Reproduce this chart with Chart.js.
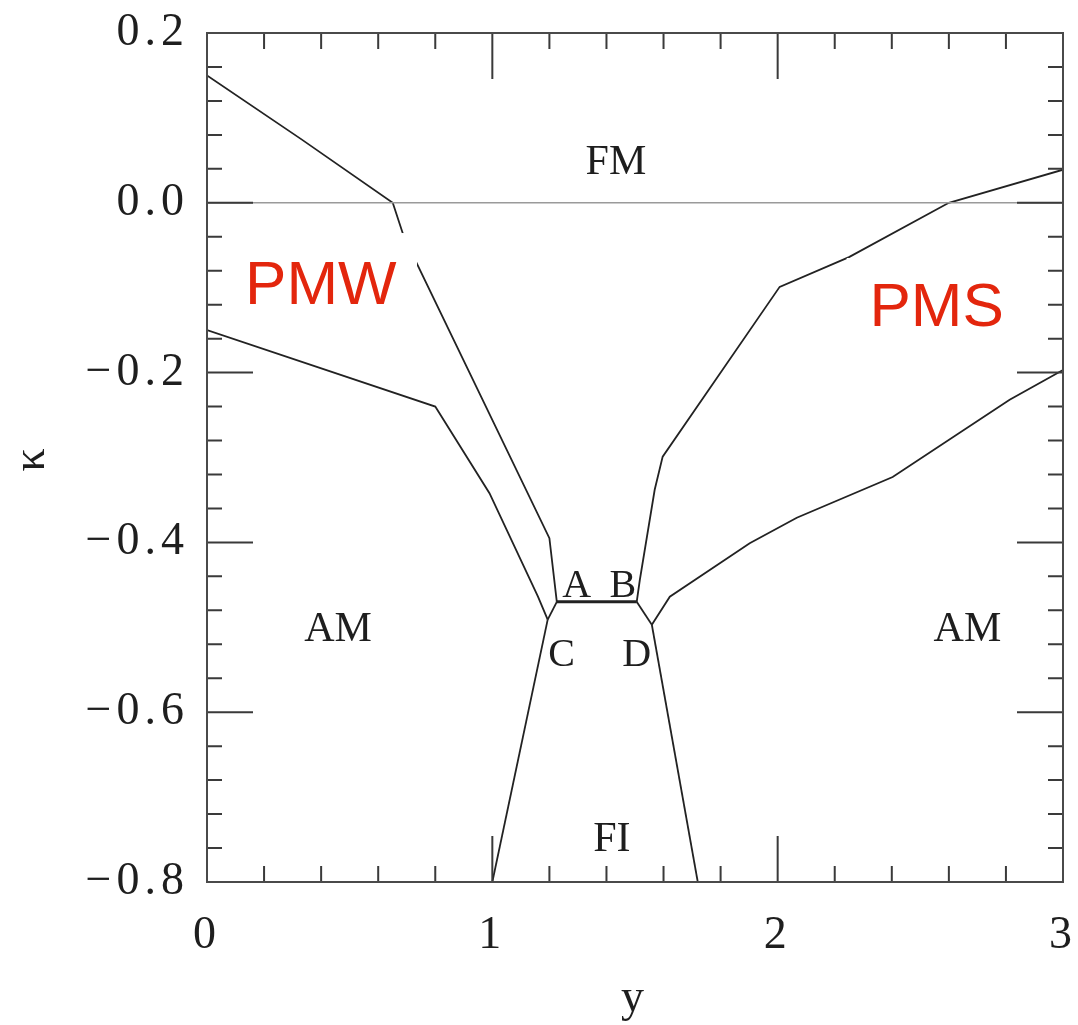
<!DOCTYPE html>
<html>
<head>
<meta charset="utf-8">
<title>Phase diagram κ vs y</title>
<script src="https://cdn.jsdelivr.net/npm/chart.js@4.4.1/dist/chart.umd.min.js"></script>
<style>
  html, body { margin: 0; padding: 0; background: #ffffff; }
  #wrap { width: 1078px; height: 1025px; }
</style>
</head>
<body>
<div id="wrap"><canvas id="phase" width="1078" height="1025"></canvas></div>
<script>
// Phase boundaries in the (y, κ) plane, as [y, κ] pairs
const fmPmwBoundary = [[0, 0.150], [0.33, 0.075], [0.651, 0.0], [0.69, -0.040], [1.20, -0.395], [1.226, -0.470]];
const pmwAmBoundary = [[0, -0.150], [0.80, -0.240], [0.99, -0.342], [1.16, -0.464], [1.194, -0.491]];
const caSegment = [[1.194, -0.491], [1.226, -0.470]];
const abSegment = [[1.226, -0.470], [1.506, -0.470]];
const bdSegment = [[1.506, -0.470], [1.559, -0.497]];
const fmPmsBoundary = [[3.0, 0.039], [2.60, 0.0], [2.25, -0.064], [2.007, -0.099], [1.597, -0.299], [1.569, -0.338], [1.517, -0.444], [1.506, -0.470]];
const pmsAmBoundary = [[3.0, -0.197], [2.813, -0.232], [2.403, -0.323], [2.067, -0.371], [1.902, -0.401], [1.622, -0.464], [1.559, -0.497]];
const cFiBoundary = [[1.194, -0.491], [1.0, -0.8]];
const dFiBoundary = [[1.559, -0.497], [1.72, -0.8]];
const zeroLine = [[0, 0], [3, 0]];

// Axis ranges and tick labels
const yRange = [0, 3];
const kappaRange = [-0.8, 0.2];
const yTickLabels = ['0', '1', '2', '3'];

// Region names and their anchor positions [y, κ]
const phaseNames = ['FM', 'AM', 'AM', 'FI', 'A', 'B', 'C', 'D'];
const phaseAnchors = [[1.433, 0.047], [0.459, -0.503], [2.665, -0.503], [1.419, -0.750],
                      [1.296, -0.4525], [1.457, -0.4525], [1.243, -0.533], [1.506, -0.533]];
const paraNames = ['PMW', 'PMS'];
const paraAnchors = [[0.399, -0.099], [2.557, -0.125]];
// White backing panels of the red labels, [y0, y1, κ0, κ1]
const paraPanels = [[0.081, 0.736, -0.0356, -0.152], [2.242, 2.865, -0.065, -0.184]];

const toXY = pts => pts.map(p => ({ x: p[0], y: p[1] }));
const lineColor = '#222222';
const serif = '"Liberation Serif", "DejaVu Serif", serif';

function boundary(pts, width, color) {
  return {
    data: toXY(pts),
    showLine: true,
    borderColor: color || lineColor,
    borderWidth: width || 1.8,
    pointRadius: 0,
    pointHoverRadius: 0,
    fill: false,
    tension: 0
  };
}

const minus = s => s.replace('-', '\u2212');

// Frame and inward-pointing tick marks
const frameTicks = {
  id: 'frameTicks',
  beforeDraw(chart) {
    chart.ctx.letterSpacing = '5px';
  },
  afterDatasetsDraw(chart) {
    const ctx = chart.ctx;
    const xs = chart.scales.x, ys = chart.scales.y;
    const a = chart.chartArea;
    ctx.save();
    ctx.letterSpacing = '0px';

    // white panels behind the red labels
    ctx.fillStyle = '#ffffff';
    paraPanels.forEach(p => {
      const x0 = xs.getPixelForValue(p[0]), x1 = xs.getPixelForValue(p[1]);
      const y0 = ys.getPixelForValue(p[2]), y1 = ys.getPixelForValue(p[3]);
      ctx.fillRect(x0, y0, x1 - x0, y1 - y0);
    });

    // tick marks
    ctx.strokeStyle = '#3a3a3a';
    ctx.lineWidth = 2;
    ctx.beginPath();
    for (let i = 0; i <= 15; i++) {
      const px = xs.getPixelForValue(i * 0.2);
      const len = (i % 5 === 0) ? 46 : 16;
      ctx.moveTo(px, a.bottom); ctx.lineTo(px, a.bottom - len);
      ctx.moveTo(px, a.top); ctx.lineTo(px, a.top + len);
    }
    for (let j = 0; j <= 25; j++) {
      const py = ys.getPixelForValue(-0.8 + j * 0.04);
      const len = (j % 5 === 0) ? 46 : 15;
      ctx.moveTo(a.left, py); ctx.lineTo(a.left + len, py);
      ctx.moveTo(a.right, py); ctx.lineTo(a.right - len, py);
    }
    ctx.stroke();

    // frame
    ctx.strokeStyle = '#4a4a4a';
    ctx.lineWidth = 2;
    ctx.strokeRect(a.left, a.top, a.right - a.left, a.bottom - a.top);

    // region names
    ctx.fillStyle = '#1e1e1e';
    ctx.textAlign = 'center';
    ctx.textBaseline = 'middle';
    phaseNames.forEach((t, k) => {
      const size = t.length === 1 ? 40 : 42;
      ctx.font = size + 'px ' + serif;
      ctx.fillText(t, xs.getPixelForValue(phaseAnchors[k][0]), ys.getPixelForValue(phaseAnchors[k][1]));
    });

    ctx.fillStyle = '#e3260d';
    ctx.font = '62px "Liberation Sans", Arial, sans-serif';
    paraNames.forEach((t, k) => {
      ctx.fillText(t, xs.getPixelForValue(paraAnchors[k][0]), ys.getPixelForValue(paraAnchors[k][1]));
    });
    ctx.restore();
  }
};

const datasets = [
  boundary(zeroLine, 1.5, '#9a9a9a'),
  boundary(fmPmwBoundary),
  boundary(pmwAmBoundary),
  boundary(caSegment),
  boundary(abSegment, 3),
  boundary(bdSegment),
  boundary(fmPmsBoundary),
  boundary(pmsAmBoundary),
  boundary(cFiBoundary),
  boundary(dFiBoundary)
];

new Chart(document.getElementById('phase'), {
  type: 'scatter',
  data: { datasets },
  options: {
    responsive: false,
    animation: false,
    events: [],
    layout: { autoPadding: false, padding: { left: 0, top: 33, right: 15, bottom: 0 } },
    plugins: { legend: { display: false }, tooltip: { enabled: false } },
    scales: {
      x: {
        type: 'linear',
        min: yRange[0],
        max: yRange[1],
        afterFit(scale) { scale.height = 143; scale.paddingLeft = 0; scale.paddingRight = 0; },
        grid: { drawOnChartArea: false, drawTicks: false },
        border: { display: false },
        ticks: {
          stepSize: 1,
          padding: 26,
          color: '#1e1e1e',
          font: { family: serif, size: 46 },
          callback: (v) => yTickLabels[Math.round(v)]
        },
        title: {
          display: true,
          text: 'y',
          color: '#1e1e1e',
          font: { family: serif, size: 46 },
          padding: { top: 0, bottom: -2 }
        }
      },
      y: {
        type: 'linear',
        min: kappaRange[0],
        max: kappaRange[1],
        afterFit(scale) { scale.width = 207; scale.paddingTop = 0; scale.paddingBottom = 0; },
        grid: { drawOnChartArea: false, drawTicks: false },
        border: { display: false },
        ticks: {
          stepSize: 0.2,
          padding: 18,
          color: '#1e1e1e',
          font: { family: serif, size: 46 },
          callback: (v) => minus((Math.round(v * 10) / 10).toFixed(1))
        },
        title: {
          display: true,
          text: 'κ',
          color: '#1e1e1e',
          font: { family: serif, size: 46 },
          padding: { top: 4, bottom: 4 }
        }
      }
    }
  },
  plugins: [frameTicks]
});
</script>
</body>
</html>
